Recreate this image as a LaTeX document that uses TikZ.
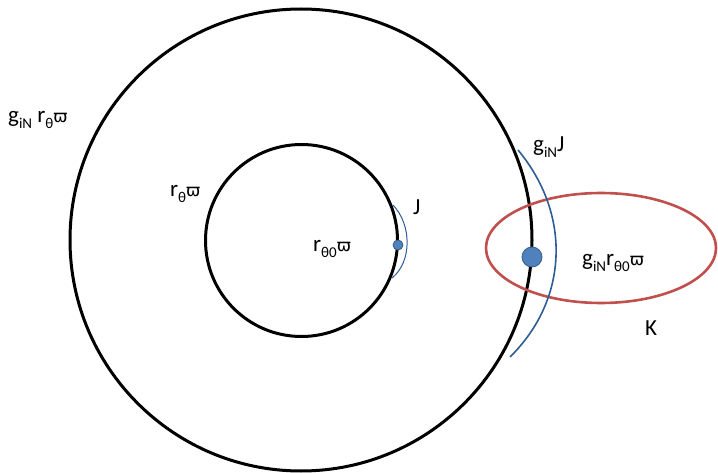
\documentclass[tikz,border=0pt]{standalone}
\usepackage{fontspec}
\setmainfont{Carlito}
\newfontfamily\dvfont{DejaVu Sans}
\usetikzlibrary{shapes.geometric}
\definecolor{dotblue}{HTML}{4F81BD}
\definecolor{dotedge}{HTML}{385D8A}
\definecolor{arcblue}{HTML}{2E5C96}
\definecolor{ellred}{HTML}{C0504D}
\newcommand\sbs[1]{\raisebox{-0.25em}{\fontsize{15}{15}\selectfont #1}}
\newcommand\vpi{{\dvfont\fontsize{17}{17}\selectfont ϖ}}
\begin{document}
\begin{tikzpicture}[x=1pt,y=-1pt,
  ring/.style={circle,draw=black,line width=3pt,inner sep=0pt},
  dotnode/.style={circle,fill=dotblue,draw=dotedge,line width=0.8pt,inner sep=0pt},
  lbl/.style={anchor=base west,inner sep=0pt,font=\fontsize{23}{23}\selectfont}]
\useasboundingbox (0,0) rectangle (718,473);
\node[ring,minimum size=462pt] (outer) at (301,240) {};
\node[ring,minimum size=192pt] (inner) at (301.5,240.5) {};
\node[ellipse,draw=ellred,line width=2.6pt,minimum width=230pt,minimum height=110pt,inner sep=0pt] (K) at (601,248) {};
\draw[arcblue,line width=1.6pt] (518,150) .. controls (572,215) and (568,300) .. (510,357);
\draw[arcblue,line width=1pt] (393,205) .. controls (412,225) and (412,262) .. (392,278);
\node[dotnode,minimum size=20pt] (bigdot) at (532,257) {};
\node[dotnode,minimum size=10pt] (smalldot) at (398,245) {};
\node[lbl] (l1) at (8,123) {g\sbs{iN} r\sbs{θ}\vpi};
\node[lbl] (l2) at (170,197) {r\sbs{θ}\vpi};
\node[lbl] (l3) at (313,252) {r\sbs{θ0}\vpi};
\node[lbl] (l4) at (413,215) {J};
\node[lbl] (l5) at (533,152) {g\sbs{iN}J};
\node[lbl] (l6) at (582,266) {g\sbs{iN}r\sbs{θ0}\vpi};
\node[lbl] (l7) at (645,335) {K};
\end{tikzpicture}
\end{document}
